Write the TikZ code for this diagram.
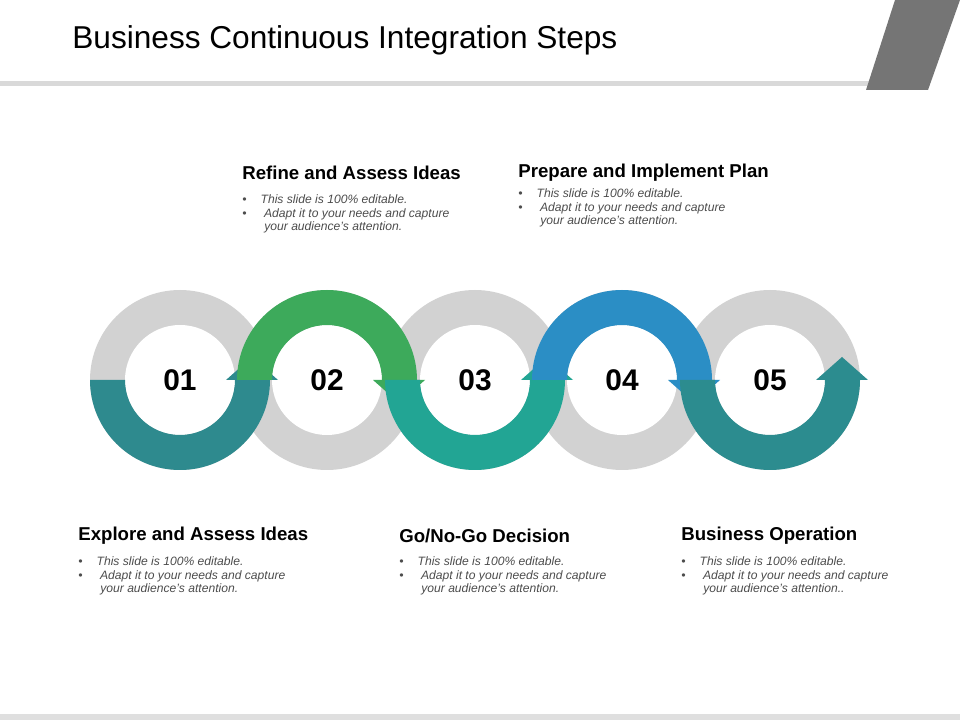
\documentclass[tikz,border=0pt]{standalone}
\usepackage{fontspec}
\setmainfont{Liberation Sans}
\usetikzlibrary{positioning}
\definecolor{tealA}{HTML}{2E8A8E}
\definecolor{greenB}{HTML}{3DAA5B}
\definecolor{tealC}{HTML}{22A594}
\definecolor{blueD}{HTML}{2B8EC5}
\definecolor{tealE}{HTML}{2C8C8F}
\newcommand{\grayring}[1]{%
  \fill[gray!35] (#1,340) circle (90);
  \fill[white] (#1,340) circle (55);}
\newcommand{\lowerhalf}[2]{%
  \fill[#2] (#1-90,340) arc[start angle=180,end angle=360,radius=90] -- (#1+55,340) arc[start angle=0,end angle=-180,radius=55] -- cycle;
  \fill[#2] (#1+46,340) -- (#1+98,340) -- (#1+72,363) -- cycle;}
\newcommand{\upperhalf}[2]{%
  \fill[#2] (#1-90,340) arc[start angle=180,end angle=0,radius=90] -- (#1+55,340) arc[start angle=0,end angle=180,radius=55] -- cycle;
  \fill[#2] (#1+46,340) -- (#1+98,340) -- (#1+72,317) -- cycle;}
\begin{document}
\begin{tikzpicture}[x=0.02cm, y=0.02cm,
    heading/.style={anchor=west, inner sep=0pt, font=\bfseries\fontsize{10.6}{12}\selectfont},
    bullets/.style={anchor=north west, align=left, inner sep=0pt, text=black!70, font=\itshape\fontsize{6.9}{7.9}\selectfont},
    number/.style={font=\bfseries\fontsize{17}{20}\selectfont}]
    \useasboundingbox (0,0) rectangle (960,720);
    % Frame
    \fill[gray!30] (0,634) rectangle (870,639);
    \fill[gray!65!black!80] (895,720) -- (960,720) -- (928,630) -- (866,630) -- cycle;
    \fill[gray!25] (0,0) rectangle (960,6);
    \node [anchor=west, inner sep=0pt, font=\fontsize{18}{21}\selectfont] (title) at (72,680) {Business Continuous Integration Steps};

    % Rings
    \grayring{180} \grayring{327} \grayring{475} \grayring{622} \grayring{770}
    \lowerhalf{180}{tealA}
    \upperhalf{327}{greenB}
    \lowerhalf{475}{tealC}
    \upperhalf{622}{blueD}
    \lowerhalf{770}{tealE}

    % Numbers
    \node [number] (n1) at (180,340) {01};
    \node [number] (n2) at (327,340) {02};
    \node [number] (n3) at (475,340) {03};
    \node [number] (n4) at (622,340) {04};
    \node [number] (n5) at (770,340) {05};

    % Texts
    \node [heading] (h2) at (242,547) {Refine and Assess Ideas};
    \node [bullets] (b2) at (242,526) {•\hspace{8pt}This slide is 100\% editable.\\ •\hspace{8pt} Adapt it to your needs and capture\\ \hspace{12.5pt}your audience’s attention.};
    \node [heading] (h4) at (518,547) {Prepare and Implement Plan};
    \node [bullets] (b4) at (518,532) {•\hspace{8pt}This slide is 100\% editable.\\ •\hspace{8pt} Adapt it to your needs and capture\\ \hspace{12.5pt}your audience’s attention.};
    \node [heading] (h1) at (78,184) {Explore and Assess Ideas};
    \node [bullets] (b1) at (78,164) {•\hspace{8pt}This slide is 100\% editable.\\ •\hspace{8pt} Adapt it to your needs and capture\\ \hspace{12.5pt}your audience’s attention.};
    \node [heading] (h3) at (399,184) {Go/No-Go Decision};
    \node [bullets] (b3) at (399,164) {•\hspace{8pt}This slide is 100\% editable.\\ •\hspace{8pt} Adapt it to your needs and capture\\ \hspace{12.5pt}your audience’s attention.};
    \node [heading] (h5) at (681,184) {Business Operation};
    \node [bullets] (b5) at (681,164) {•\hspace{8pt}This slide is 100\% editable.\\ •\hspace{8pt} Adapt it to your needs and capture\\ \hspace{12.5pt}your audience’s attention..};
\end{tikzpicture}
\end{document}
